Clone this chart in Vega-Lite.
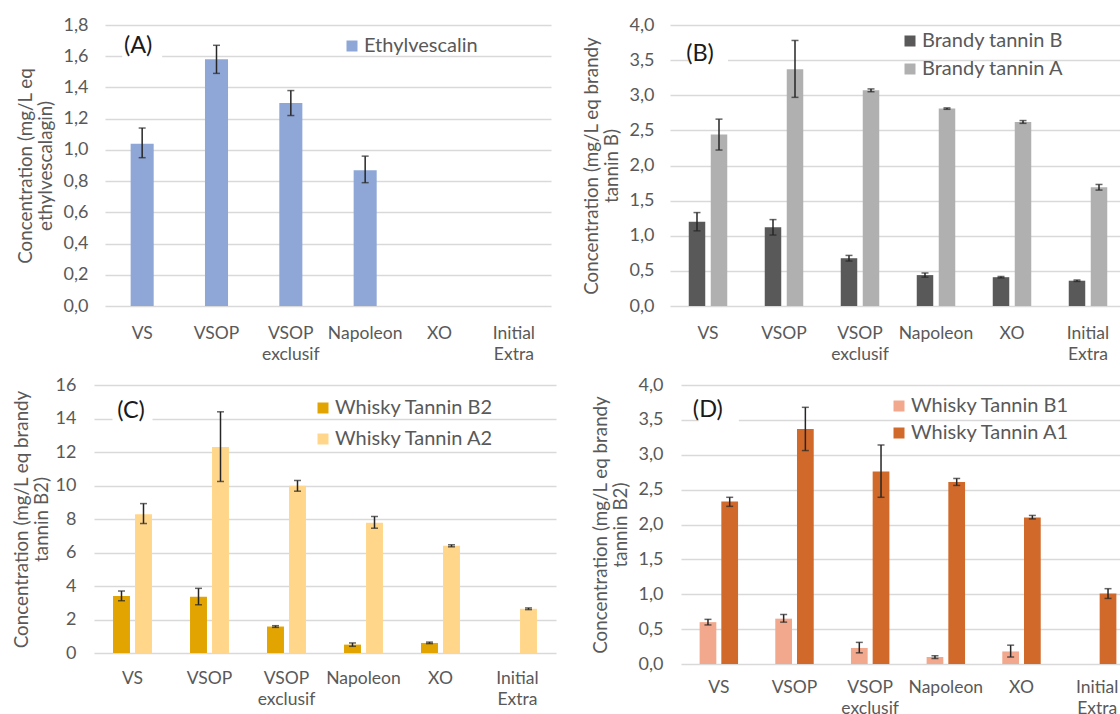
{
  "$schema": "https://vega.github.io/schema/vega-lite/v6.json",
  "background": "white",
  "padding": {"left": 12, "top": 16, "right": 0, "bottom": 0},
  "autosize": {"type": "pad"},
  "data": {"values": [
    {"panel": "A", "cat": "VS", "series": "Ethylvescalin", "v": 1.04, "lo": 0.95, "hi": 1.14},
    {"panel": "A", "cat": "VSOP", "series": "Ethylvescalin", "v": 1.58, "lo": 1.49, "hi": 1.67},
    {"panel": "A", "cat": "VSOP exclusif", "series": "Ethylvescalin", "v": 1.30, "lo": 1.22, "hi": 1.38},
    {"panel": "A", "cat": "Napoleon", "series": "Ethylvescalin", "v": 0.87, "lo": 0.79, "hi": 0.96},
    {"panel": "B", "cat": "VS", "series": "Brandy tannin B", "v": 1.20, "lo": 1.07, "hi": 1.33},
    {"panel": "B", "cat": "VSOP", "series": "Brandy tannin B", "v": 1.12, "lo": 1.01, "hi": 1.23},
    {"panel": "B", "cat": "VSOP exclusif", "series": "Brandy tannin B", "v": 0.68, "lo": 0.64, "hi": 0.72},
    {"panel": "B", "cat": "Napoleon", "series": "Brandy tannin B", "v": 0.44, "lo": 0.41, "hi": 0.47},
    {"panel": "B", "cat": "XO", "series": "Brandy tannin B", "v": 0.41, "lo": 0.40, "hi": 0.42},
    {"panel": "B", "cat": "Initial Extra", "series": "Brandy tannin B", "v": 0.36, "lo": 0.35, "hi": 0.37},
    {"panel": "B", "cat": "VS", "series": "Brandy tannin A", "v": 2.44, "lo": 2.22, "hi": 2.66},
    {"panel": "B", "cat": "VSOP", "series": "Brandy tannin A", "v": 3.37, "lo": 2.97, "hi": 3.78},
    {"panel": "B", "cat": "VSOP exclusif", "series": "Brandy tannin A", "v": 3.07, "lo": 3.05, "hi": 3.09},
    {"panel": "B", "cat": "Napoleon", "series": "Brandy tannin A", "v": 2.81, "lo": 2.80, "hi": 2.82},
    {"panel": "B", "cat": "XO", "series": "Brandy tannin A", "v": 2.62, "lo": 2.60, "hi": 2.64},
    {"panel": "B", "cat": "Initial Extra", "series": "Brandy tannin A", "v": 1.69, "lo": 1.65, "hi": 1.73},
    {"panel": "C", "cat": "VS", "series": "Whisky Tannin B2", "v": 3.40, "lo": 3.12, "hi": 3.70},
    {"panel": "C", "cat": "VSOP", "series": "Whisky Tannin B2", "v": 3.36, "lo": 2.88, "hi": 3.86},
    {"panel": "C", "cat": "VSOP exclusif", "series": "Whisky Tannin B2", "v": 1.58, "lo": 1.53, "hi": 1.63},
    {"panel": "C", "cat": "Napoleon", "series": "Whisky Tannin B2", "v": 0.50, "lo": 0.40, "hi": 0.60},
    {"panel": "C", "cat": "XO", "series": "Whisky Tannin B2", "v": 0.60, "lo": 0.56, "hi": 0.65},
    {"panel": "C", "cat": "VS", "series": "Whisky Tannin A2", "v": 8.29, "lo": 7.73, "hi": 8.92},
    {"panel": "C", "cat": "VSOP", "series": "Whisky Tannin A2", "v": 12.30, "lo": 10.24, "hi": 14.40},
    {"panel": "C", "cat": "VSOP exclusif", "series": "Whisky Tannin A2", "v": 9.98, "lo": 9.66, "hi": 10.30},
    {"panel": "C", "cat": "Napoleon", "series": "Whisky Tannin A2", "v": 7.77, "lo": 7.45, "hi": 8.15},
    {"panel": "C", "cat": "XO", "series": "Whisky Tannin A2", "v": 6.40, "lo": 6.34, "hi": 6.46},
    {"panel": "C", "cat": "Initial Extra", "series": "Whisky Tannin A2", "v": 2.64, "lo": 2.59, "hi": 2.69},
    {"panel": "D", "cat": "VS", "series": "Whisky Tannin B1", "v": 0.60, "lo": 0.56, "hi": 0.64},
    {"panel": "D", "cat": "VSOP", "series": "Whisky Tannin B1", "v": 0.65, "lo": 0.60, "hi": 0.71},
    {"panel": "D", "cat": "VSOP exclusif", "series": "Whisky Tannin B1", "v": 0.23, "lo": 0.16, "hi": 0.31},
    {"panel": "D", "cat": "Napoleon", "series": "Whisky Tannin B1", "v": 0.10, "lo": 0.08, "hi": 0.12},
    {"panel": "D", "cat": "XO", "series": "Whisky Tannin B1", "v": 0.18, "lo": 0.10, "hi": 0.27},
    {"panel": "D", "cat": "VS", "series": "Whisky Tannin A1", "v": 2.33, "lo": 2.26, "hi": 2.39},
    {"panel": "D", "cat": "VSOP", "series": "Whisky Tannin A1", "v": 3.37, "lo": 3.06, "hi": 3.68},
    {"panel": "D", "cat": "VSOP exclusif", "series": "Whisky Tannin A1", "v": 2.76, "lo": 2.39, "hi": 3.14},
    {"panel": "D", "cat": "Napoleon", "series": "Whisky Tannin A1", "v": 2.61, "lo": 2.56, "hi": 2.66},
    {"panel": "D", "cat": "XO", "series": "Whisky Tannin A1", "v": 2.10, "lo": 2.08, "hi": 2.13},
    {"panel": "D", "cat": "Initial Extra", "series": "Whisky Tannin A1", "v": 1.01, "lo": 0.94, "hi": 1.08}
  ]},
  "columns": 1,
  "align": "none",
  "bounds": "full",
  "spacing": 13,
  "resolve": {"scale": {"x": "independent", "y": "independent", "color": "independent", "xOffset": "independent"}, "legend": {"color": "independent"}},
  "concat": [
    {
      "hconcat": [
        {"width": 11, "height": 281, "data": {"values": []}, "mark": {"type": "point", "opacity": 0}},
        {
          "width": 446, "height": 281,
          "encoding": {
            "x": {"field": "cat", "type": "nominal", "sort": null,
              "scale": {"domain": ["VS", "VSOP", "VSOP exclusif", "Napoleon", "XO", "Initial Extra"], "paddingInner": 0.69, "paddingOuter": 0.345},
              "axis": {"labelExpr": "datum.value == 'VSOP exclusif' ? ['VSOP', 'exclusif'] : datum.value == 'Initial Extra' ? ['Initial', 'Extra'] : datum.label"}}
          },
          "layer": [
            {"transform": [{"filter": "datum.panel == 'A'"}],
             "mark": {"type": "bar"},
             "encoding": {
               "y": {"field": "v", "type": "quantitative",
                 "scale": {"domain": [0, 1.8], "nice": false},
                 "axis": {"values": [0, 0.2, 0.4, 0.6, 0.8, 1.0, 1.2, 1.4, 1.6, 1.8], "labelExpr": "replace(format(datum.value, '.1f'), '.', ',')", "title": ["Concentration (mg/L eq", "ethylvescalagin)"], "labelPadding": 17, "titlePadding": 8}},
               "color": {"field": "series", "type": "nominal",
                 "scale": {"domain": ["Ethylvescalin"], "range": ["#8FA7D7"]},
                 "legend": {"orient": "none", "legendX": 237, "legendY": 11}}
             }},
            {"transform": [{"filter": "datum.panel == 'A'"}],
             "mark": {"type": "rule", "color": "#262626", "strokeWidth": 1.5},
             "encoding": {"y": {"field": "lo", "type": "quantitative", "axis": {"values": [0, 0.2, 0.4, 0.6, 0.8, 1.0, 1.2, 1.4, 1.6, 1.8], "labelExpr": "replace(format(datum.value, '.1f'), '.', ',')", "title": ["Concentration (mg/L eq", "ethylvescalagin)"], "labelPadding": 17, "titlePadding": 8}}, "y2": {"field": "hi"}}},
            {"transform": [{"filter": "datum.panel == 'A'"}],
             "mark": {"type": "tick", "color": "#262626", "thickness": 1.5, "size": 7},
             "encoding": {"y": {"field": "lo", "type": "quantitative", "axis": {"values": [0, 0.2, 0.4, 0.6, 0.8, 1.0, 1.2, 1.4, 1.6, 1.8], "labelExpr": "replace(format(datum.value, '.1f'), '.', ',')", "title": ["Concentration (mg/L eq", "ethylvescalagin)"], "labelPadding": 17, "titlePadding": 8}}}},
            {"transform": [{"filter": "datum.panel == 'A'"}],
             "mark": {"type": "tick", "color": "#262626", "thickness": 1.5, "size": 7},
             "encoding": {"y": {"field": "hi", "type": "quantitative", "axis": {"values": [0, 0.2, 0.4, 0.6, 0.8, 1.0, 1.2, 1.4, 1.6, 1.8], "labelExpr": "replace(format(datum.value, '.1f'), '.', ',')", "title": ["Concentration (mg/L eq", "ethylvescalagin)"], "labelPadding": 17, "titlePadding": 8}}}},
            {"data": {"values": [{"label": "(A)"}]},
             "mark": {"type": "point", "shape": "M-1,-0.7L1,-0.7L1,0.7L-1,0.7Z", "size": 1600, "filled": true, "fill": "white", "opacity": 1, "strokeWidth": 0, "dx": -5},
             "encoding": {"x": {"datum": "VS"}, "y": {"datum": 1.665, "type": "quantitative", "axis": {"values": [0, 0.2, 0.4, 0.6, 0.8, 1.0, 1.2, 1.4, 1.6, 1.8], "labelExpr": "replace(format(datum.value, '.1f'), '.', ',')", "title": ["Concentration (mg/L eq", "ethylvescalagin)"], "labelPadding": 17, "titlePadding": 8}}}},
            {"data": {"values": [{"label": "(A)"}]},
             "mark": {"type": "text", "fontSize": 23.5, "color": "#1a1a1a", "align": "center", "baseline": "middle", "dx": -4},
             "encoding": {"x": {"datum": "VS"}, "y": {"datum": 1.665, "type": "quantitative", "axis": {"values": [0, 0.2, 0.4, 0.6, 0.8, 1.0, 1.2, 1.4, 1.6, 1.8], "labelExpr": "replace(format(datum.value, '.1f'), '.', ',')", "title": ["Concentration (mg/L eq", "ethylvescalagin)"], "labelPadding": 17, "titlePadding": 8}}, "text": {"field": "label"}}}
          ]
        },
        {"width": 119, "height": 281, "data": {"values": []}, "mark": {"type": "point", "opacity": 0}},
        {
          "width": 456, "height": 281,
          "encoding": {
            "x": {"field": "cat", "type": "nominal", "sort": null,
              "scale": {"domain": ["VS", "VSOP", "VSOP exclusif", "Napoleon", "XO", "Initial Extra"], "paddingInner": 0, "paddingOuter": 0},
              "axis": {"labelExpr": "datum.value == 'VSOP exclusif' ? ['VSOP', 'exclusif'] : datum.value == 'Initial Extra' ? ['Initial', 'Extra'] : datum.label"}}
          },
          "layer": [
            {"transform": [{"filter": "datum.panel == 'B'"}],
             "mark": {"type": "bar"},
             "encoding": {
               "xOffset": {"field": "series", "type": "nominal", "scale": {"domain": ["Brandy tannin B", "Brandy tannin A"], "paddingInner": 0.25, "paddingOuter": 0.852}},
               "y": {"field": "v", "type": "quantitative",
                 "scale": {"domain": [0, 4], "nice": false},
                 "axis": {"values": [0, 0.5, 1, 1.5, 2, 2.5, 3, 3.5, 4], "labelExpr": "replace(format(datum.value, '.1f'), '.', ',')", "title": ["Concentration (mg/L eq brandy", "tannin B)"], "labelPadding": 16, "titlePadding": 8}},
               "color": {"field": "series", "type": "nominal",
                 "scale": {"domain": ["Brandy tannin B", "Brandy tannin A"], "range": ["#595959", "#B0B0B0"]},
                 "legend": {"orient": "none", "legendX": 230, "legendY": 6, "rowPadding": 8}}
             }},
            {"transform": [{"filter": "datum.panel == 'B'"}],
             "mark": {"type": "rule", "color": "#262626", "strokeWidth": 1.5},
             "encoding": {"xOffset": {"field": "series", "type": "nominal"}, "y": {"field": "lo", "type": "quantitative", "axis": {"values": [0, 0.5, 1, 1.5, 2, 2.5, 3, 3.5, 4], "labelExpr": "replace(format(datum.value, '.1f'), '.', ',')", "title": ["Concentration (mg/L eq brandy", "tannin B)"], "labelPadding": 16, "titlePadding": 8}}, "y2": {"field": "hi"}}},
            {"transform": [{"filter": "datum.panel == 'B'"}],
             "mark": {"type": "tick", "color": "#262626", "thickness": 1.5, "size": 7},
             "encoding": {"xOffset": {"field": "series", "type": "nominal"}, "y": {"field": "lo", "type": "quantitative", "axis": {"values": [0, 0.5, 1, 1.5, 2, 2.5, 3, 3.5, 4], "labelExpr": "replace(format(datum.value, '.1f'), '.', ',')", "title": ["Concentration (mg/L eq brandy", "tannin B)"], "labelPadding": 16, "titlePadding": 8}}}},
            {"transform": [{"filter": "datum.panel == 'B'"}],
             "mark": {"type": "tick", "color": "#262626", "thickness": 1.5, "size": 7},
             "encoding": {"xOffset": {"field": "series", "type": "nominal"}, "y": {"field": "hi", "type": "quantitative", "axis": {"values": [0, 0.5, 1, 1.5, 2, 2.5, 3, 3.5, 4], "labelExpr": "replace(format(datum.value, '.1f'), '.', ',')", "title": ["Concentration (mg/L eq brandy", "tannin B)"], "labelPadding": 16, "titlePadding": 8}}}},
            {"data": {"values": [{"label": "(B)"}]},
             "mark": {"type": "point", "shape": "M-1,-0.7L1,-0.7L1,0.7L-1,0.7Z", "size": 1600, "filled": true, "fill": "white", "opacity": 1, "strokeWidth": 0, "dx": -11},
             "encoding": {"x": {"datum": "VS"}, "y": {"datum": 3.587, "type": "quantitative", "axis": {"values": [0, 0.5, 1, 1.5, 2, 2.5, 3, 3.5, 4], "labelExpr": "replace(format(datum.value, '.1f'), '.', ',')", "title": ["Concentration (mg/L eq brandy", "tannin B)"], "labelPadding": 16, "titlePadding": 8}}}},
            {"data": {"values": [{"label": "(B)"}]},
             "mark": {"type": "text", "fontSize": 23.5, "color": "#1a1a1a", "align": "center", "baseline": "middle", "dx": -8},
             "encoding": {"x": {"datum": "VS"}, "y": {"datum": 3.587, "type": "quantitative", "axis": {"values": [0, 0.5, 1, 1.5, 2, 2.5, 3, 3.5, 4], "labelExpr": "replace(format(datum.value, '.1f'), '.', ',')", "title": ["Concentration (mg/L eq brandy", "tannin B)"], "labelPadding": 16, "titlePadding": 8}}, "text": {"field": "label"}}}
          ]
        }
      ],
      "spacing": 0,
      "bounds": "flush",
      "resolve": {"scale": {"x": "independent", "y": "independent", "color": "independent", "xOffset": "independent"}, "legend": {"color": "independent"}}
    },
    {
      "hconcat": [
        {
          "width": 462, "height": 268,
          "encoding": {
            "x": {"field": "cat", "type": "nominal", "sort": null,
              "scale": {"domain": ["VS", "VSOP", "VSOP exclusif", "Napoleon", "XO", "Initial Extra"], "paddingInner": 0, "paddingOuter": 0},
              "axis": {"labelPadding": 16, "labelExpr": "datum.value == 'VSOP exclusif' ? ['VSOP', 'exclusif'] : datum.value == 'Initial Extra' ? ['Initial', 'Extra'] : datum.label"}}
          },
          "layer": [
            {"transform": [{"filter": "datum.panel == 'C'"}],
             "mark": {"type": "bar"},
             "encoding": {
               "xOffset": {"field": "series", "type": "nominal", "scale": {"domain": ["Whisky Tannin B2", "Whisky Tannin A2"], "paddingInner": 0.23, "paddingOuter": 0.865}},
               "y": {"field": "v", "type": "quantitative",
                 "scale": {"domain": [0, 16], "nice": false},
                 "axis": {"values": [0, 2, 4, 6, 8, 10, 12, 14, 16], "format": "d", "title": ["Concentration (mg/L eq brandy", "tannin B2)"], "labelPadding": 18, "titlePadding": 4}},
               "color": {"field": "series", "type": "nominal",
                 "scale": {"domain": ["Whisky Tannin B2", "Whisky Tannin A2"], "range": ["#E2A400", "#FFD68A"]},
                 "legend": {"orient": "none", "legendX": 219, "legendY": 13, "rowPadding": 11}}
             }},
            {"transform": [{"filter": "datum.panel == 'C'"}],
             "mark": {"type": "rule", "color": "#262626", "strokeWidth": 1.5},
             "encoding": {"xOffset": {"field": "series", "type": "nominal"}, "y": {"field": "lo", "type": "quantitative", "axis": {"values": [0, 2, 4, 6, 8, 10, 12, 14, 16], "format": "d", "title": ["Concentration (mg/L eq brandy", "tannin B2)"], "labelPadding": 18, "titlePadding": 4}}, "y2": {"field": "hi"}}},
            {"transform": [{"filter": "datum.panel == 'C'"}],
             "mark": {"type": "tick", "color": "#262626", "thickness": 1.5, "size": 7},
             "encoding": {"xOffset": {"field": "series", "type": "nominal"}, "y": {"field": "lo", "type": "quantitative", "axis": {"values": [0, 2, 4, 6, 8, 10, 12, 14, 16], "format": "d", "title": ["Concentration (mg/L eq brandy", "tannin B2)"], "labelPadding": 18, "titlePadding": 4}}}},
            {"transform": [{"filter": "datum.panel == 'C'"}],
             "mark": {"type": "tick", "color": "#262626", "thickness": 1.5, "size": 7},
             "encoding": {"xOffset": {"field": "series", "type": "nominal"}, "y": {"field": "hi", "type": "quantitative", "axis": {"values": [0, 2, 4, 6, 8, 10, 12, 14, 16], "format": "d", "title": ["Concentration (mg/L eq brandy", "tannin B2)"], "labelPadding": 18, "titlePadding": 4}}}},
            {"data": {"values": [{"label": "(C)"}]},
             "mark": {"type": "point", "shape": "M-1,-0.7L1,-0.7L1,0.7L-1,0.7Z", "size": 1600, "filled": true, "fill": "white", "opacity": 1, "strokeWidth": 0, "dx": -2.5},
             "encoding": {"x": {"datum": "VS"}, "y": {"datum": 14.45, "type": "quantitative", "axis": {"values": [0, 2, 4, 6, 8, 10, 12, 14, 16], "format": "d", "title": ["Concentration (mg/L eq brandy", "tannin B2)"], "labelPadding": 18, "titlePadding": 4}}}},
            {"data": {"values": [{"label": "(C)"}]},
             "mark": {"type": "text", "fontSize": 23.5, "color": "#1a1a1a", "align": "center", "baseline": "middle", "dx": -1.5},
             "encoding": {"x": {"datum": "VS"}, "y": {"datum": 14.45, "type": "quantitative", "axis": {"values": [0, 2, 4, 6, 8, 10, 12, 14, 16], "format": "d", "title": ["Concentration (mg/L eq brandy", "tannin B2)"], "labelPadding": 18, "titlePadding": 4}}, "text": {"field": "label"}}}
          ]
        },
        {
          "width": 454, "height": 279,
          "encoding": {
            "x": {"field": "cat", "type": "nominal", "sort": null,
              "scale": {"domain": ["VS", "VSOP", "VSOP exclusif", "Napoleon", "XO", "Initial Extra"], "paddingInner": 0, "paddingOuter": 0},
              "axis": {"labelPadding": 14, "labelExpr": "datum.value == 'VSOP exclusif' ? ['VSOP', 'exclusif'] : datum.value == 'Initial Extra' ? ['Initial', 'Extra'] : datum.label"}}
          },
          "layer": [
            {"transform": [{"filter": "datum.panel == 'D'"}],
             "mark": {"type": "bar"},
             "encoding": {
               "xOffset": {"field": "series", "type": "nominal", "scale": {"domain": ["Whisky Tannin B1", "Whisky Tannin A1"], "paddingInner": 0.23, "paddingOuter": 0.857}},
               "y": {"field": "v", "type": "quantitative",
                 "scale": {"domain": [0, 4], "nice": false},
                 "axis": {"values": [0, 0.5, 1, 1.5, 2, 2.5, 3, 3.5, 4], "labelExpr": "replace(format(datum.value, '.1f'), '.', ',')", "title": ["Concentration (mg/L eq brandy", "tannin B2)"], "labelPadding": 18, "titlePadding": 8}},
               "color": {"field": "series", "type": "nominal",
                 "scale": {"domain": ["Whisky Tannin B1", "Whisky Tannin A1"], "range": ["#F2A88C", "#D1692A"]},
                 "legend": {"orient": "none", "legendX": 208, "legendY": 11, "rowPadding": 7}}
             }},
            {"transform": [{"filter": "datum.panel == 'D'"}],
             "mark": {"type": "rule", "color": "#262626", "strokeWidth": 1.5},
             "encoding": {"xOffset": {"field": "series", "type": "nominal"}, "y": {"field": "lo", "type": "quantitative", "axis": {"values": [0, 0.5, 1, 1.5, 2, 2.5, 3, 3.5, 4], "labelExpr": "replace(format(datum.value, '.1f'), '.', ',')", "title": ["Concentration (mg/L eq brandy", "tannin B2)"], "labelPadding": 18, "titlePadding": 8}}, "y2": {"field": "hi"}}},
            {"transform": [{"filter": "datum.panel == 'D'"}],
             "mark": {"type": "tick", "color": "#262626", "thickness": 1.5, "size": 7},
             "encoding": {"xOffset": {"field": "series", "type": "nominal"}, "y": {"field": "lo", "type": "quantitative", "axis": {"values": [0, 0.5, 1, 1.5, 2, 2.5, 3, 3.5, 4], "labelExpr": "replace(format(datum.value, '.1f'), '.', ',')", "title": ["Concentration (mg/L eq brandy", "tannin B2)"], "labelPadding": 18, "titlePadding": 8}}}},
            {"transform": [{"filter": "datum.panel == 'D'"}],
             "mark": {"type": "tick", "color": "#262626", "thickness": 1.5, "size": 7},
             "encoding": {"xOffset": {"field": "series", "type": "nominal"}, "y": {"field": "hi", "type": "quantitative", "axis": {"values": [0, 0.5, 1, 1.5, 2, 2.5, 3, 3.5, 4], "labelExpr": "replace(format(datum.value, '.1f'), '.', ',')", "title": ["Concentration (mg/L eq brandy", "tannin B2)"], "labelPadding": 18, "titlePadding": 8}}}},
            {"data": {"values": [{"label": "(D)"}]},
             "mark": {"type": "point", "shape": "M-1,-0.7L1,-0.7L1,0.7L-1,0.7Z", "size": 1600, "filled": true, "fill": "white", "opacity": 1, "strokeWidth": 0, "dx": -13},
             "encoding": {"x": {"datum": "VS"}, "y": {"datum": 3.64, "type": "quantitative", "axis": {"values": [0, 0.5, 1, 1.5, 2, 2.5, 3, 3.5, 4], "labelExpr": "replace(format(datum.value, '.1f'), '.', ',')", "title": ["Concentration (mg/L eq brandy", "tannin B2)"], "labelPadding": 18, "titlePadding": 8}}}},
            {"data": {"values": [{"label": "(D)"}]},
             "mark": {"type": "text", "fontSize": 23.5, "color": "#1a1a1a", "align": "center", "baseline": "middle", "dx": -11},
             "encoding": {"x": {"datum": "VS"}, "y": {"datum": 3.64, "type": "quantitative", "axis": {"values": [0, 0.5, 1, 1.5, 2, 2.5, 3, 3.5, 4], "labelExpr": "replace(format(datum.value, '.1f'), '.', ',')", "title": ["Concentration (mg/L eq brandy", "tannin B2)"], "labelPadding": 18, "titlePadding": 8}}, "text": {"field": "label"}}}
          ]
        }
      ],
      "spacing": 125,
      "bounds": "flush",
      "resolve": {"scale": {"x": "independent", "y": "independent", "color": "independent", "xOffset": "independent"}, "legend": {"color": "independent"}}
    }
  ],
  "config": {
    "font": "Lato",
    "view": {"stroke": null},
    "axis": {"labelFont": "Lato", "titleFont": "Lato", "labelColor": "#595959", "titleColor": "#595959",
      "labelFontSize": 17.5, "titleFontSize": 18.8, "titleFontWeight": "normal", "domain": false, "ticks": false},
    "axisY": {"gridColor": "#D9D9D9", "gridWidth": 1.3, "titleLineHeight": 20, "labelOverlap": false, "labelFontSize": 18},
    "axisX": {"grid": false, "labelAngle": 0, "labelPadding": 18, "labelLineHeight": 21, "title": null, "labelOverlap": false, "labelBound": false},
    "legend": {"title": null, "symbolType": "square", "symbolSize": 121, "symbolStrokeWidth": 0, "labelFont": "Lato",
      "labelFontSize": 20, "labelColor": "#595959", "labelOffset": 2, "padding": 0},
    "text": {"font": "Lato"}
  }
}
